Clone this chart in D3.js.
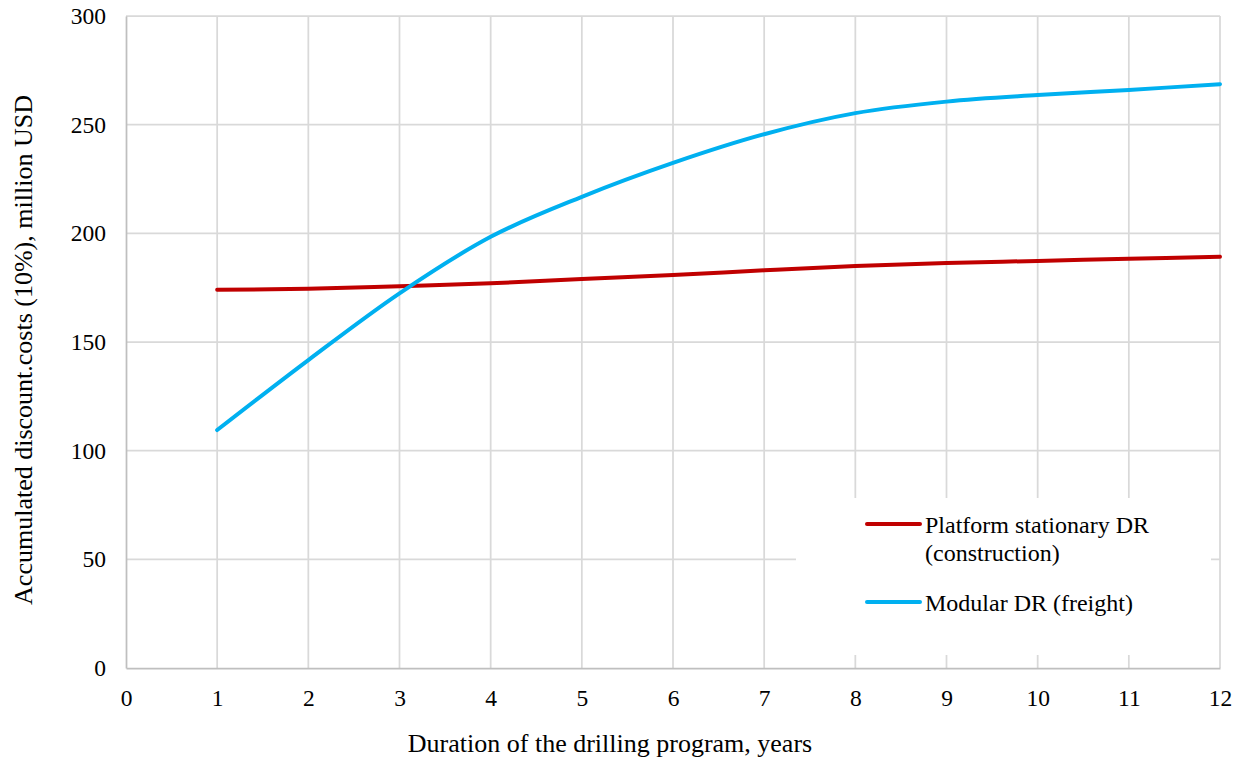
<!DOCTYPE html>
<html>
<head>
<meta charset="utf-8">
<script src="https://cdn.jsdelivr.net/npm/d3@7"></script>
<style>
  html, body { margin: 0; padding: 0; background: #fff; }
  svg { display: block; }
  svg text { font-family: "Liberation Serif", "Times New Roman", "DejaVu Serif", serif; }
</style>
</head>
<body>
<svg id="chart" width="1244" height="763"></svg>
<script>
// Duration of the drilling program, years
const years = [1, 2, 3, 4, 5, 6, 7, 8, 9, 10, 11, 12];
// Accumulated discounted costs (10%), million USD
const platformStationary = [174, 174.5, 175.7, 177, 179, 180.8, 183, 185, 186.4, 187.3, 188.3, 189.2];
const modularFreight = [109.5, 141.7, 172.4, 198.4, 216.8, 232.4, 245.6, 255.3, 260.6, 263.6, 266, 268.6];
const xTicks = [0, 1, 2, 3, 4, 5, 6, 7, 8, 9, 10, 11, 12];
const yTicks = [0, 50, 100, 150, 200, 250, 300];
const seriesNames = ["Platform stationary DR (construction)", "Modular DR (freight)"];

const FONT = "Liberation Serif, Times New Roman, serif";

const series = [
  { name: seriesNames[0], lines: ["Platform stationary DR", "(construction)"], values: platformStationary, color: "#c00000" },
  { name: seriesNames[1], lines: ["Modular DR (freight)"], values: modularFreight, color: "#00b0f0" }
];

const svg = d3.select("#chart");
const plot = { left: 126, right: 1220, top: 16, bottom: 668 };

const x = d3.scaleLinear().domain([0, 12]).range([plot.left, plot.right]);
const y = d3.scaleLinear().domain([0, 300]).range([plot.bottom, plot.top]);

// gridlines
const grid = svg.append("g");
grid.selectAll("line.v").data(xTicks.slice(1)).join("line")
  .attr("class", "v")
  .attr("x1", d => x(d)).attr("x2", d => x(d))
  .attr("y1", plot.top).attr("y2", plot.bottom)
  .attr("stroke", "#d9d9d9").attr("stroke-width", 1.75);
grid.selectAll("line.h").data(yTicks.slice(1)).join("line")
  .attr("class", "h")
  .attr("x1", plot.left).attr("x2", plot.right)
  .attr("y1", d => y(d)).attr("y2", d => y(d))
  .attr("stroke", "#d9d9d9").attr("stroke-width", 1.75);

// axes
const xAxis = d3.axisBottom(x).tickValues(xTicks).tickSize(0).tickPadding(21).tickFormat(d3.format("d"));
const yAxis = d3.axisLeft(y).tickValues(yTicks).tickSize(0).tickPadding(20).tickFormat(d3.format("d"));

const gx = svg.append("g").attr("transform", `translate(0,${plot.bottom})`).call(xAxis);
const gy = svg.append("g").attr("transform", `translate(${plot.left},0)`).call(yAxis);
[gx, gy].forEach(g => {
  g.attr("font-family", FONT);
  g.select(".domain").attr("stroke", "#bfbfbf").attr("stroke-width", 1.75);
  g.selectAll("text").attr("font-family", FONT).attr("font-size", 23.5).attr("fill", "#000");
});

// series lines (smoothed)
const line = d3.line()
  .x((d, i) => x(years[i]))
  .y(d => y(d))
  .curve(d3.curveCatmullRom.alpha(0));

svg.append("g").selectAll("path").data(series).join("path")
  .attr("d", s => line(s.values))
  .attr("fill", "none")
  .attr("stroke", s => s.color)
  .attr("stroke-width", 4)
  .attr("stroke-linecap", "round");

// legend
const legend = svg.append("g");
legend.append("rect")
  .attr("x", 796).attr("y", 498).attr("width", 415).attr("height", 157)
  .attr("fill", "#fff");
const legendRows = [
  { s: series[0], cy: 524 },
  { s: series[1], cy: 602 }
];
legendRows.forEach(r => {
  legend.append("line")
    .attr("x1", 867).attr("x2", 920)
    .attr("y1", r.cy).attr("y2", r.cy)
    .attr("stroke", r.s.color).attr("stroke-width", 4)
    .attr("stroke-linecap", "round");
  const t = legend.append("text")
    .attr("x", 925).attr("y", r.cy + 8.5)
    .attr("font-family", FONT)
    .attr("font-size", 24).attr("fill", "#000");
  r.s.lines.forEach((ln, i) => {
    t.append("tspan").attr("x", 925).attr("dy", i === 0 ? 0 : 28).text(ln);
  });
});

// axis titles
svg.append("text")
  .attr("x", 610).attr("y", 752)
  .attr("text-anchor", "middle")
  .attr("font-family", FONT).attr("font-size", 26).attr("fill", "#000")
  .text("Duration of the drilling program, years");

svg.append("text")
  .attr("transform", `translate(32,350) rotate(-90)`)
  .attr("text-anchor", "middle")
  .attr("font-family", FONT).attr("font-size", 26).attr("fill", "#000")
  .text("Accumulated discount.costs (10%), million USD");
</script>
</body>
</html>
